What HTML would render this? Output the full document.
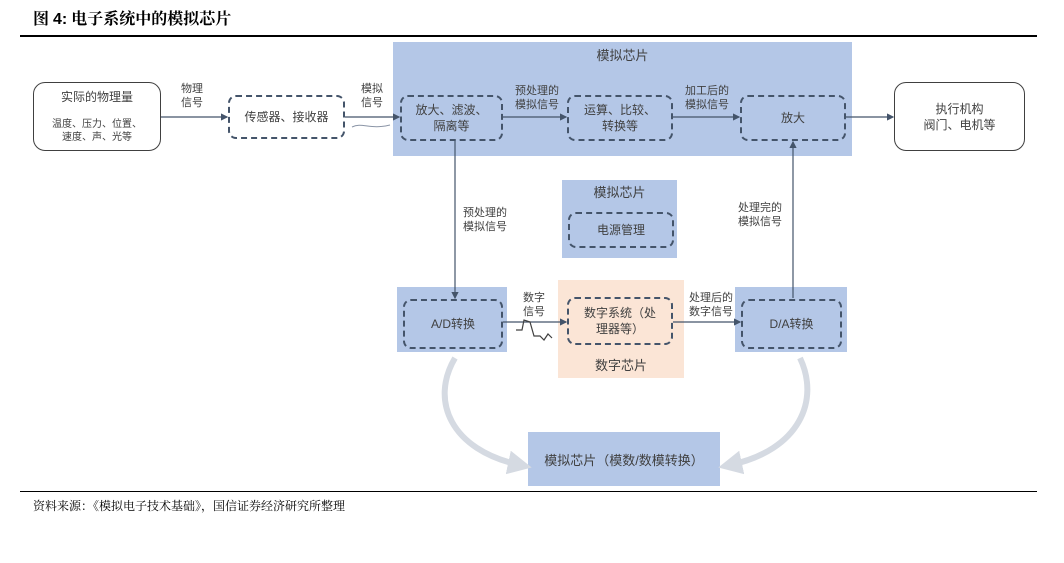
<!DOCTYPE html>
<html><head><meta charset="utf-8"><style>
body{margin:0;width:1064px;height:563px;background:#fff;position:relative;overflow:hidden;font-family:"Liberation Sans","Noto Sans CJK SC",sans-serif;color:#404040}
div{position:absolute;box-sizing:border-box}
.blue{background:#b4c7e7}
.d{border:2px dashed #44546a;border-radius:8px;display:flex;align-items:center;justify-content:center;text-align:center;font-size:12px;line-height:16px;color:#404040}
.t{font-size:11px;line-height:14px;text-align:center;color:#404040}
</style></head><body>
<div style="left:33px;top:6px;font-size:16px;font-weight:bold;color:#000;font-family:'Liberation Serif','Noto Serif CJK SC',serif">图 <span style="font-family:'Liberation Sans';color:#000">4:</span> 电子系统中的模拟芯片</div>
<div style="left:20px;top:35px;width:1017px;height:2px;background:#000"></div>
<div style="left:20px;top:491px;width:1017px;height:1px;background:#000"></div>
<div style="left:33px;top:497px;font-size:12px;color:#000;font-family:'Liberation Serif','Noto Serif CJK SC',serif">资料来源：《模拟电子技术基础》，国信证券经济研究所整理</div>

<div class="blue" style="left:393px;top:42px;width:459px;height:114px"></div>
<div class="t" style="left:393px;top:49px;width:459px;font-size:13px">模拟芯片</div>
<div class="blue" style="left:562px;top:180px;width:115px;height:78px"></div>
<div class="t" style="left:562px;top:186px;width:115px;font-size:13px">模拟芯片</div>
<div class="blue" style="left:397px;top:287px;width:110px;height:65px"></div>
<div class="blue" style="left:735px;top:287px;width:112px;height:65px"></div>
<div style="left:558px;top:280px;width:126px;height:98px;background:#fbe5d6"></div>
<div class="t" style="left:558px;top:359px;width:126px;font-size:13px">数字芯片</div>
<div class="blue" style="left:528px;top:432px;width:192px;height:54px;display:flex;align-items:center;justify-content:center;font-size:13px">模拟芯片（模数/数模转换）</div>

<div style="left:33px;top:82px;width:128px;height:69px;border:1.5px solid #404040;border-radius:12px"></div>
<div class="t" style="left:33px;top:90px;width:128px;font-size:12px">实际的物理量</div>
<div class="t" style="left:33px;top:118px;width:128px;font-size:10px;line-height:13px">温度、压力、位置、<br>速度、声、光等</div>
<div style="left:894px;top:82px;width:131px;height:69px;border:1.5px solid #404040;border-radius:12px;display:flex;align-items:center;justify-content:center;text-align:center;font-size:12px;line-height:16px">执行机构<br>阀门、电机等</div>

<div class="d" style="left:228px;top:95px;width:117px;height:44px">传感器、接收器</div>
<div class="d" style="left:400px;top:95px;width:103px;height:46px">放大、滤波、<br>隔离等</div>
<div class="d" style="left:567px;top:95px;width:106px;height:46px">运算、比较、<br>转换等</div>
<div class="d" style="left:740px;top:95px;width:106px;height:46px">放大</div>
<div class="d" style="left:568px;top:212px;width:106px;height:36px">电源管理</div>
<div class="d" style="left:403px;top:299px;width:100px;height:50px">A/D转换</div>
<div class="d" style="left:567px;top:297px;width:106px;height:48px">数字系统（处<br>理器等）</div>
<div class="d" style="left:741px;top:299px;width:101px;height:50px">D/A转换</div>

<div class="t" style="left:170px;top:82px;width:44px">物理<br>信号</div>
<div class="t" style="left:350px;top:82px;width:44px">模拟<br>信号</div>
<div class="t" style="left:505px;top:84px;width:64px">预处理的<br>模拟信号</div>
<div class="t" style="left:675px;top:84px;width:64px">加工后的<br>模拟信号</div>
<div class="t" style="left:455px;top:206px;width:60px">预处理的<br>模拟信号</div>
<div class="t" style="left:730px;top:201px;width:60px">处理完的<br>模拟信号</div>
<div class="t" style="left:512px;top:291px;width:44px">数字<br>信号</div>
<div class="t" style="left:680px;top:291px;width:62px">处理后的<br>数字信号</div>

<svg width="1064" height="563" style="position:absolute;left:0;top:0">
<defs><marker id="a" markerWidth="6" markerHeight="6" refX="5" refY="3" orient="auto"><path d="M0,0L6,3L0,6z" fill="#44546a"/></marker>
<marker id="g" markerWidth="4" markerHeight="4" refX="2" refY="2" orient="auto"><path d="M0,0L4,2L0,4z" fill="#d5dae2"/></marker></defs>
<g stroke="#44546a" stroke-width="1.2" fill="none">
<line x1="161" y1="117" x2="227" y2="117" marker-end="url(#a)"/>
<line x1="345" y1="117" x2="399" y2="117" marker-end="url(#a)"/>
<line x1="503" y1="117" x2="566" y2="117" marker-end="url(#a)"/>
<line x1="673" y1="117" x2="739" y2="117" marker-end="url(#a)"/>
<line x1="846" y1="117" x2="893" y2="117" marker-end="url(#a)"/>
<line x1="455" y1="141" x2="455" y2="298" marker-end="url(#a)"/>
<line x1="793" y1="298" x2="793" y2="142" marker-end="url(#a)"/>
<line x1="503" y1="322" x2="566" y2="322" marker-end="url(#a)"/>
<line x1="673" y1="322" x2="740" y2="322" marker-end="url(#a)"/>
</g>
<path d="M352,127 C362,122 370,130 390,125" stroke="#8a94a6" fill="none" stroke-width="1"/>
<path d="M516,330 L522,330 L524,320 L530,322 L534,336 L540,336 L544,340 L548,334 L552,338" stroke="#404040" fill="none" stroke-width="1.2"/>
<path d="M455,358 C430,400 450,450 520,465" stroke="#d5dae2" stroke-width="6" fill="none" marker-end="url(#g)"/>
<path d="M800,358 C820,400 800,450 730,465" stroke="#d5dae2" stroke-width="6" fill="none" marker-end="url(#g)"/>
</svg>
</body></html>
